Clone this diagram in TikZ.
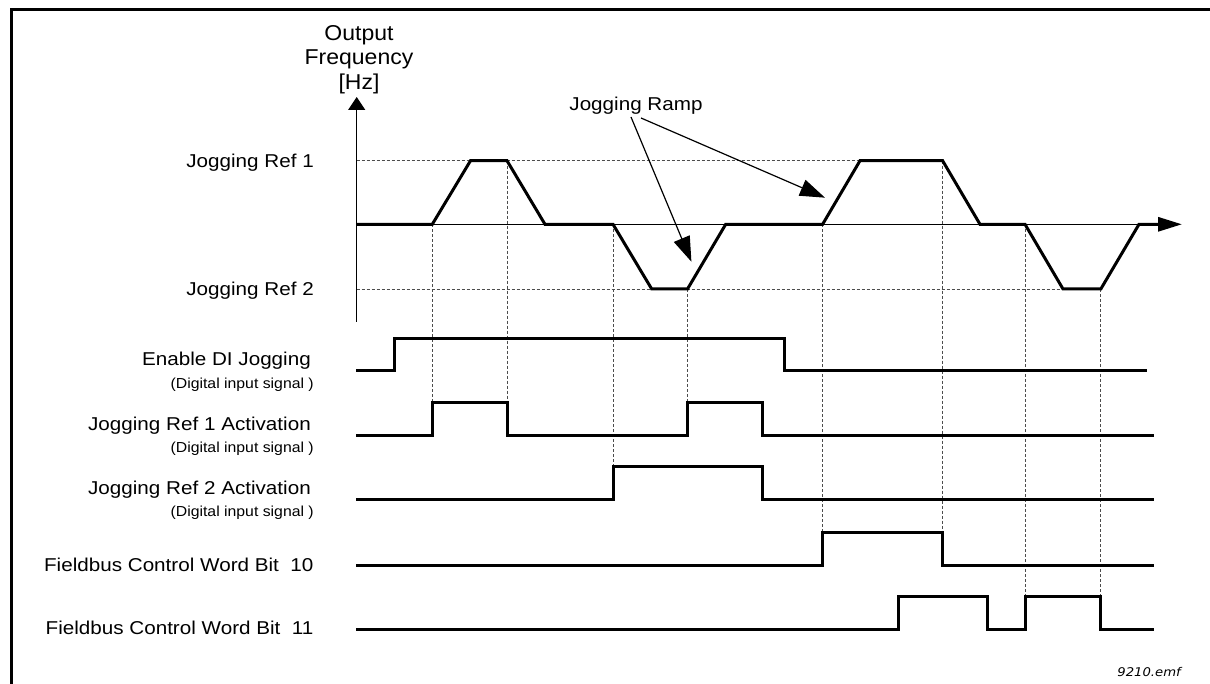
\documentclass[tikz,border=0pt]{standalone}
\usepackage{fontspec}
\setmainfont{Liberation Sans}
\newfontfamily\lblfont{Liberation Sans}[FakeStretch=1.11]
\newfontfamily\subfont{Liberation Sans}[FakeStretch=1.09]
\newfontfamily\ttlfont{Liberation Sans}[FakeStretch=1.07]
\newfontfamily\emffont{DejaVu Sans}[FakeStretch=1.1]
\usetikzlibrary{arrows.meta}
\tikzset{
  lbl/.style={anchor=east, inner sep=0pt, font=\lblfont\fontsize{18.6}{21}\selectfont, text height=13.3pt, text depth=0pt},
  sublbl/.style={anchor=east, inner sep=0pt, font=\subfont\fontsize{14.5}{17}\selectfont, text height=10.4pt, text depth=0pt},
  ramplbl/.style={anchor=center, inner sep=0pt, font=\lblfont\fontsize{18.6}{21}\selectfont, text height=13.3pt, text depth=0pt},
  ttl/.style={anchor=center, inner sep=0pt, font=\ttlfont\fontsize{21.5}{24}\selectfont, text height=15.4pt, text depth=0pt},
  wave/.style={line width=3pt, line join=miter},
  guide/.style={draw=black!70, line width=0.8pt, dash pattern=on 3pt off 2pt},
  axisline/.style={line width=1.2pt},
  rampline/.style={line width=1.2pt, -{Triangle[length=25pt,width=17pt]}},
  frameline/.style={line width=3pt},
}
\begin{document}
\begin{tikzpicture}[x=1pt,y=-1pt]
\useasboundingbox (0,0) rectangle (1210,684);
% frame
\draw[frameline] (11,684) -- (11,10) -- (1210,10);
% reference dashed levels
\draw[guide] (356.7,160.7) -- (860,160.7);
\draw[guide] (356.7,289) -- (1063,289);
% dashed verticals
\draw[guide] (432.3,224.3) -- (432.3,402.3);
\draw[guide] (507,160.7) -- (507,402.3);
\draw[guide] (613,224.3) -- (613,466.7);
\draw[guide] (687,289) -- (687,402.3);
\draw[guide] (822.6,224.3) -- (822.6,532.3);
\draw[guide] (942.6,160.7) -- (942.6,532.3);
\draw[guide] (1025,224.3) -- (1025,596.7);
\draw[guide] (1100.8,289) -- (1100.8,596.7);
% axes
\draw[axisline, -{Triangle[length=13pt,width=17pt]}] (356.7,322) -- (356.7,97);
\draw[axisline] (356.7,224.3) -- (1160,224.3);
% output frequency curve
\draw[wave, -{Triangle[length=24pt,width=14pt]}] (356.7,224.3) -- (432.3,224.3) -- (470.5,160.7) -- (507,160.7) -- (545,224.3) -- (613,224.3) -- (651.7,289) -- (687.5,289) -- (725.7,224.3) -- (822.6,224.3) -- (860,160.7) -- (942.6,160.7) -- (980,224.3) -- (1025,224.3) -- (1063,289) -- (1100.8,289) -- (1139,224.3) -- (1182,224.3);
% axis title
\node[ttl] (out1) at (359,33) {Output};
\node[ttl] (out2) at (359,57) {Frequency};
\node[ttl] (out3) at (359,82) {[Hz]};
% level labels
\node[lbl] (ref1) at (314,160.7) {Jogging Ref 1};
\node[lbl] (ref2) at (314,289) {Jogging Ref 2};
% jogging ramp
\node[ramplbl] (ramp) at (636,104) {Jogging Ramp};
\coordinate (r1s) at (631,117);
\coordinate (r1e) at (691.4,261.7);
\coordinate (r2s) at (641,118);
\coordinate (r2e) at (825,197.7);
\draw[rampline] (r1s) -- (r1e);
\draw[rampline] (r2s) -- (r2e);
% signals
\draw[wave] (356,370.7) -- (394,370.7) -- (394,338.3) -- (784.8,338.3) -- (784.8,370.7) -- (1146.7,370.7);
\draw[wave] (356,435) -- (432.3,435) -- (432.3,402.3) -- (507,402.3) -- (507,435) -- (687,435) -- (687,402.3) -- (762.6,402.3) -- (762.6,435) -- (1154,435);
\draw[wave] (356,499) -- (613,499) -- (613,466.7) -- (762.6,466.7) -- (762.6,499) -- (1154,499);
\draw[wave] (356,565) -- (822.6,565) -- (822.6,532.3) -- (942.6,532.3) -- (942.6,565) -- (1154,565);
\draw[wave] (356,629) -- (898,629) -- (898,596.7) -- (987.5,596.7) -- (987.5,629) -- (1025,629) -- (1025,596.7) -- (1100.8,596.7) -- (1100.8,629) -- (1154,629);
% signal labels
\node[lbl] (en) at (311,359.3) {Enable DI Jogging};
\node[sublbl] (ensub) at (314,383.3) {(Digital input signal~)};
\node[lbl] (a1) at (311,424) {Jogging Ref 1 Activation};
\node[sublbl] (a1sub) at (314,447.3) {(Digital input signal~)};
\node[lbl] (a2) at (311,488) {Jogging Ref 2 Activation};
\node[sublbl] (a2sub) at (314,511) {(Digital input signal~)};
\node[lbl] (b10) at (313.6,565) {Fieldbus Control Word Bit~~10};
\node[lbl] (b11) at (313.6,628.3) {Fieldbus Control Word Bit~~11};
% file name
\node[anchor=east, inner sep=0pt, font=\emffont\itshape\fontsize{12}{14}\selectfont, text height=8.7pt, text depth=0pt] (emf) at (1181,672) {9210.emf};
\end{tikzpicture}
\end{document}
